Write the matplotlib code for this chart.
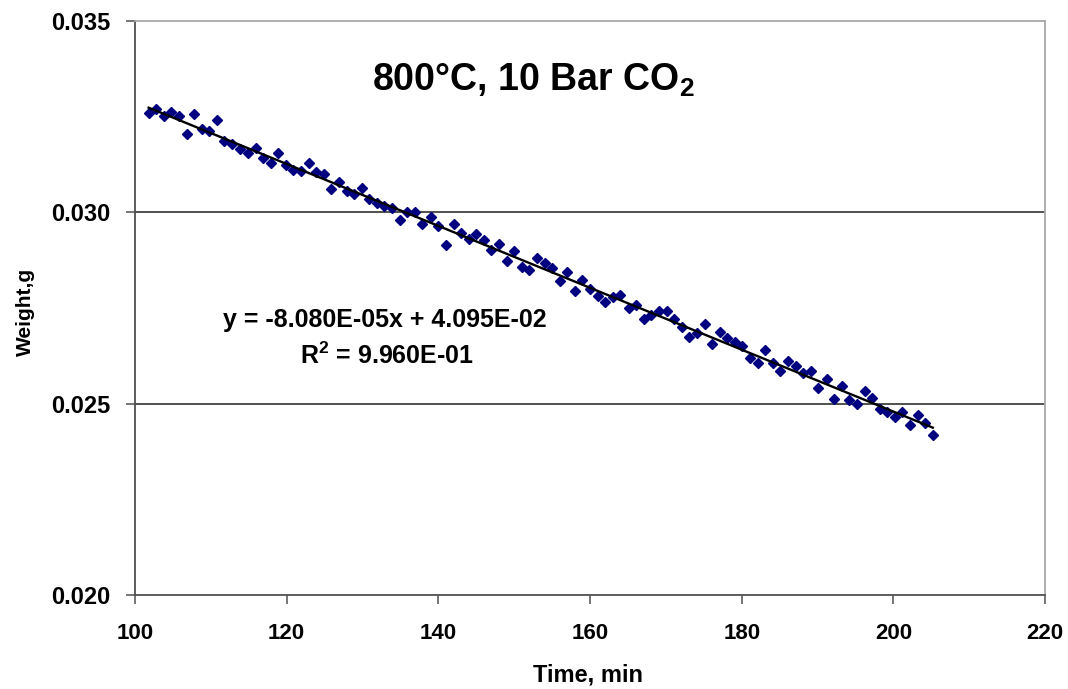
import matplotlib
matplotlib.use('Agg')
import matplotlib.pyplot as plt
import numpy as np

plt.rcParams['font.family'] = ['Liberation Sans', 'DejaVu Sans']
plt.rcParams['font.weight'] = 'bold'
plt.rcParams['mathtext.default'] = 'regular'

# data
time_min = [
    101.8, 102.8, 103.8, 104.8, 105.8, 106.8, 107.8, 108.8, 109.8, 110.8,
    111.8, 112.8, 113.8, 114.9, 115.9, 116.9, 117.9, 118.9, 119.9, 120.9,
    121.9, 122.9, 123.9, 124.9, 125.9, 126.9, 127.9, 128.9, 129.9, 130.9,
    131.9, 132.9, 133.9, 134.9, 135.9, 136.9, 137.9, 139.0, 140.0, 141.0,
    142.0, 143.0, 144.0, 145.0, 146.0, 147.0, 148.0, 149.0, 150.0, 151.0,
    152.0, 153.0, 154.0, 155.0, 156.0, 157.0, 158.0, 159.0, 160.0, 161.0,
    162.0, 163.0, 164.0, 165.1, 166.1, 167.1, 168.1, 169.1, 170.1, 171.1,
    172.1, 173.1, 174.1, 175.1, 176.1, 177.1, 178.1, 179.1, 180.1, 181.1,
    182.1, 183.1, 184.1, 185.1, 186.1, 187.1, 188.1, 189.1, 190.1, 191.2,
    192.2, 193.2, 194.2, 195.2, 196.2, 197.2, 198.2, 199.2, 200.2, 201.2,
    202.2, 203.2, 204.2, 205.2,
]
weight_g = [
    0.03258, 0.03269, 0.03252, 0.03262, 0.03252, 0.03205, 0.03255, 0.03218, 0.03211, 0.03239,
    0.03185, 0.03178, 0.03164, 0.03153, 0.03168, 0.03142, 0.03129, 0.03153, 0.03124, 0.03109,
    0.03108, 0.03129, 0.03104, 0.03099, 0.03059, 0.03078, 0.03056, 0.03047, 0.03062, 0.03035,
    0.03023, 0.03017, 0.03010, 0.02979, 0.02999, 0.02999, 0.02970, 0.02988, 0.02963, 0.02914,
    0.02968, 0.02944, 0.02929, 0.02943, 0.02927, 0.02901, 0.02916, 0.02872, 0.02899, 0.02856,
    0.02849, 0.02881, 0.02868, 0.02853, 0.02821, 0.02844, 0.02795, 0.02822, 0.02798, 0.02782,
    0.02766, 0.02779, 0.02783, 0.02750, 0.02757, 0.02720, 0.02731, 0.02742, 0.02742, 0.02722,
    0.02701, 0.02673, 0.02685, 0.02708, 0.02655, 0.02686, 0.02670, 0.02660, 0.02651, 0.02620,
    0.02605, 0.02640, 0.02605, 0.02586, 0.02612, 0.02599, 0.02580, 0.02586, 0.02541, 0.02564,
    0.02511, 0.02546, 0.02509, 0.02499, 0.02534, 0.02514, 0.02487, 0.02479, 0.02464, 0.02479,
    0.02445, 0.02471, 0.02450, 0.02417,
]
slope = -8.080e-05
intercept = 4.095e-02
r_squared = 9.960e-01

x_ticks = [100, 120, 140, 160, 180, 200, 220]
y_ticks = [0.020, 0.025, 0.030, 0.035]

fig = plt.figure(figsize=(10.68, 6.89), dpi=100)
ax = fig.add_axes([0.1264, 0.1364, 0.8521, 0.8338])

# grid lines (inner ones dark, like the excel chart)
for yv in y_ticks[1:-1]:
    ax.axhline(yv, color='#202020', lw=1.1, zorder=1)

ax.plot(time_min, weight_g, linestyle='none', marker='D', ms=5.2,
        color='#000080', zorder=3)

# linear trend line
tx = np.array([time_min[0], time_min[-1]])
ax.plot(tx, slope * tx + intercept, color='black', lw=1.7, zorder=4)

ax.set_xlim(100, 220)
ax.set_ylim(0.020, 0.035)
ax.set_xticks(x_ticks)
ax.set_yticks(y_ticks)
ax.set_yticklabels([f'{v:.3f}' for v in y_ticks])

ax.spines['left'].set_color('#505050')
ax.spines['bottom'].set_color('#505050')
ax.spines['top'].set_color('#a8a8a8')
ax.spines['right'].set_color('#a8a8a8')
for s in ax.spines.values():
    s.set_linewidth(1.3)

ax.tick_params(axis='both', direction='out', length=6.5, width=1.1,
               color='#505050')
ax.tick_params(axis='y', pad=11, labelsize=17)
ax.tick_params(axis='x', pad=14, labelsize=16)
for lab in ax.get_xticklabels() + ax.get_yticklabels():
    lab.set_fontweight('bold')

fig.text(588 / 1068, 1 - 675 / 689, 'Time, min', ha='center', va='center',
         fontsize=17, fontweight='bold')
fig.text(25 / 1068, 1 - 312 / 689, 'Weight,g', ha='center', va='center',
         rotation=90, fontsize=15, fontweight='bold')

fig.text(533 / 1068, 1 - 80 / 689, r'800°C, 10 Bar CO$_2$', ha='center',
         va='center', fontsize=27, fontweight='bold')

fig.text(385 / 1068, 1 - 320 / 689, 'y = %.3E' % slope + 'x + %.3E' % intercept,
         ha='center', va='center', fontsize=18, fontweight='bold')
fig.text(387 / 1068, 1 - 356 / 689, r'R$^2$ = %.3E' % r_squared,
         ha='center', va='center', fontsize=18, fontweight='bold')

fig.savefig('out.png', dpi=100)
